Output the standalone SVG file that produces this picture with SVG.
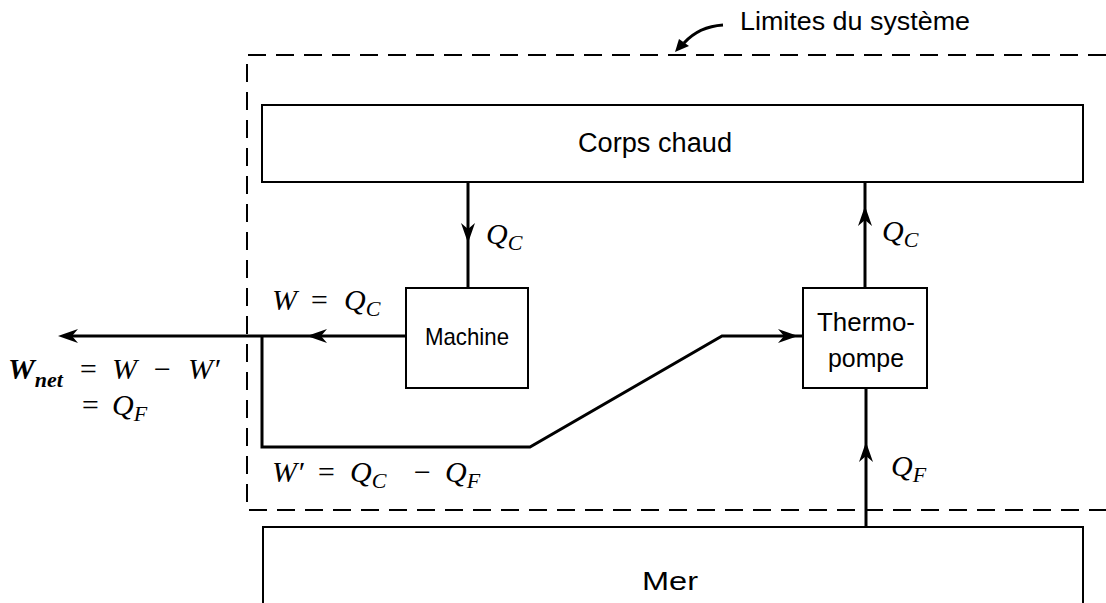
<svg xmlns="http://www.w3.org/2000/svg" width="1106" height="603" viewBox="0 0 1106 603">
<style>
.box{fill:#fff;stroke:#000;stroke-width:2}
.ln{fill:none;stroke:#000;stroke-width:3}
.bd{fill:none;stroke:#000;stroke-width:2;stroke-dasharray:18 10}
.lbl{font-family:"Liberation Sans",Arial,sans-serif;fill:#000;text-anchor:middle}
.m{font-family:"Liberation Serif","Times New Roman",serif;font-style:italic;font-size:30px;fill:#000}
.s{font-size:22px}
.mb{font-weight:bold}
</style>
<defs>
<marker id="ah" viewBox="0 0 20 14" refX="12" refY="7" markerWidth="20" markerHeight="14" markerUnits="userSpaceOnUse" orient="auto">
<path d="M0,0 L20,7 L0,14 L6,7 Z" fill="#000"/>
</marker>
</defs>
<rect width="1106" height="603" fill="#fff"/>
<g id="boundary">
<path class="bd" d="M1106,55 H247 V510 H1106"/>
<text x="740" y="30" textLength="230" lengthAdjust="spacingAndGlyphs" style="font-family:'Liberation Sans',Arial,sans-serif;font-size:25px">Limites du système</text>
<path d="M723,25 C707,26 694,32 684,43" fill="none" stroke="#000" stroke-width="3"/>
<path d="M675,52 L679,39 L689,46 Z" fill="#000"/>
</g>
<g id="corps-chaud">
<rect class="box" x="262" y="105" width="821" height="77"/>
<text class="lbl" x="655" y="152" font-size="27" textLength="154" lengthAdjust="spacingAndGlyphs">Corps chaud</text>
</g>
<g id="machine">
<rect class="box" x="406" y="288" width="122" height="100"/>
<text class="lbl" x="467" y="345" font-size="24" textLength="84" lengthAdjust="spacingAndGlyphs">Machine</text>
</g>
<g id="thermopompe">
<rect class="box" x="803" y="288" width="124" height="100"/>
<text class="lbl" x="866" y="331" font-size="26" textLength="98" lengthAdjust="spacingAndGlyphs">Thermo-</text>
<text class="lbl" x="866" y="367" font-size="26" textLength="76" lengthAdjust="spacingAndGlyphs">pompe</text>
</g>
<g id="mer">
<rect class="box" x="263" y="527" width="820" height="90"/>
<text class="lbl" x="670" y="590" font-size="26" textLength="56" lengthAdjust="spacingAndGlyphs">Mer</text>
</g>
<g id="connectors">
<path class="ln" d="M468,182 V235" marker-end="url(#ah)"/>
<path class="ln" d="M468,230 V288"/>
<path class="ln" d="M865,288 V214" marker-end="url(#ah)"/>
<path class="ln" d="M865,220 V182"/>
<path class="ln" d="M866,527 V450" marker-end="url(#ah)"/>
<path class="ln" d="M866,455 V388"/>
<path class="ln" d="M406,336 H315" marker-end="url(#ah)"/>
<path class="ln" d="M320,336 H66" marker-end="url(#ah)"/>
<path class="ln" d="M262,336 V447 H530 L722,336 H790" marker-end="url(#ah)"/>
<path class="ln" d="M785,336 H803"/>
</g>
<g id="labels">
<text class="m" x="486" y="244">Q<tspan class="s" dy="6">C</tspan></text>
<text class="m" x="882" y="241">Q<tspan class="s" dy="6">C</tspan></text>
<text class="m" x="891" y="476">Q<tspan class="s" dy="6">F</tspan></text>
<text class="m"><tspan x="272" y="310">W</tspan><tspan x="309" y="310">=</tspan><tspan x="344" y="310">Q</tspan><tspan class="s" dy="6">C</tspan></text>
<text class="m"><tspan x="272" y="482">W′</tspan><tspan x="316" y="482">=</tspan><tspan x="350" y="482">Q</tspan><tspan class="s" dy="6">C</tspan><tspan x="412" y="482">−</tspan><tspan x="445" y="482">Q</tspan><tspan class="s" dy="6">F</tspan></text>
<text class="m"><tspan x="8" y="379" class="mb">W</tspan><tspan class="s mb" dy="8">net</tspan><tspan x="78" y="379">=</tspan><tspan x="112" y="379">W</tspan><tspan x="152" y="379">−</tspan><tspan x="188" y="379">W′</tspan></text>
<text class="m"><tspan x="80" y="415">=</tspan><tspan x="112" y="415">Q</tspan><tspan class="s" dy="6">F</tspan></text>
</g>
</svg>
